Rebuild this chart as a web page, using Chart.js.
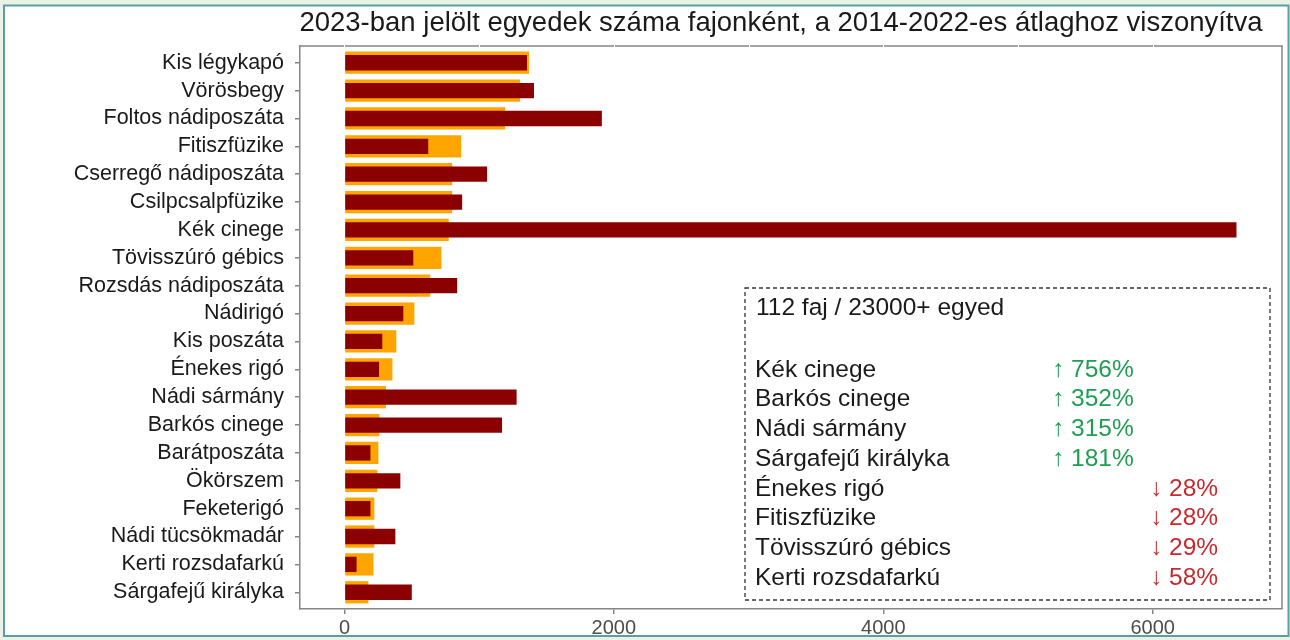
<!DOCTYPE html>
<html>
<head>
<meta charset="utf-8">
<script src="https://cdn.jsdelivr.net/npm/chart.js@4.4.1/dist/chart.umd.min.js"></script>
<style>
  html, body { margin: 0; padding: 0; background: #eaf2e6; }
  #wrap { width: 1290px; height: 640px; }
</style>
</head>
<body>
<div id="wrap"><canvas id="birdChart" width="1290" height="640"></canvas></div>
<script>
// Fajok (fentről lefelé)
const species = [
  'Kis légykapó', 'Vörösbegy', 'Foltos nádiposzáta', 'Fitiszfüzike',
  'Cserregő nádiposzáta', 'Csilpcsalpfüzike', 'Kék cinege', 'Tövisszúró gébics',
  'Rozsdás nádiposzáta', 'Nádirigó', 'Kis poszáta', 'Énekes rigó',
  'Nádi sármány', 'Barkós cinege', 'Barátposzáta', 'Ökörszem',
  'Feketerigó', 'Nádi tücsökmadár', 'Kerti rozsdafarkú', 'Sárgafejű királyka'
];

// 2014-2022 átlag
const avg2014_2022 = [
  1370, 1304, 1193, 867, 800, 800, 774, 720, 637, 519,
  385, 356, 308, 259, 252, 244, 222, 222, 215, 178
];

// 2023-ban jelölt egyedek
const count2023 = [
  1355, 1407, 1911, 622, 1059, 874, 6622, 511, 837, 437,
  281, 257, 1278, 1170, 193, 415, 193, 378, 90, 500
];

const xTicks = [0, 2000, 4000, 6000];

// Szövegdoboz
const boxHeader = '112 faj / 23000+ egyed';
const boxSpecies = [
  'Kék cinege', 'Barkós cinege', 'Nádi sármány', 'Sárgafejű királyka',
  'Énekes rigó', 'Fitiszfüzike', 'Tövisszúró gébics', 'Kerti rozsdafarkú'
];
const boxChanges = [
  '↑ 756%', '↑ 352%', '↑ 315%', '↑ 181%',
  '↓ 28%', '↓ 28%', '↓ 29%', '↓ 58%'
];

const FONT = '"Liberation Sans", Arial, sans-serif';
const titleText = '2023-ban jelölt egyedek száma fajonként, a 2014-2022-es átlaghoz viszonyítva';

const framePlugin = {
  id: 'frame',
  beforeDraw(chart) {
    const c = chart.ctx;
    c.save();
    c.fillStyle = '#eaf2e6';
    c.fillRect(0, 0, chart.width, chart.height);
    c.fillStyle = '#ffffff';
    c.fillRect(4, 5, 1285, 631);
    c.strokeStyle = '#5b9fa6';
    c.lineWidth = 2;
    c.strokeRect(4, 5.5, 1284.5, 630.5);
    c.restore();
  },
  afterDraw(chart) {
    const c = chart.ctx;
    const ca = chart.chartArea;
    const xs = chart.scales.x;
    c.save();
    // top and right panel border
    c.strokeStyle = '#858585';
    c.lineWidth = 1.5;
    c.beginPath();
    c.moveTo(ca.left, ca.top);
    c.lineTo(ca.right, ca.top);
    c.lineTo(ca.right, ca.bottom);
    c.stroke();
    // white grid lines crossing the top border
    c.strokeStyle = '#ffffff';
    c.lineWidth = 1;
    for (let v = 0; v <= 6000; v += 1000) {
      const px = Math.round(xs.getPixelForValue(v)) + 0.5;
      c.beginPath();
      c.moveTo(px, ca.top - 1);
      c.lineTo(px, ca.top + 1);
      c.stroke();
    }

    // title
    c.fillStyle = '#1a1a1a';
    c.font = '27.5px ' + FONT;
    c.textAlign = 'center';
    c.textBaseline = 'middle';
    c.fillText(titleText, (ca.left + ca.right) / 2 - 10, 23);

    // dashed text box
    const left = ca.left + 445, right = ca.left + 970;
    const top = ca.top + 242, bottom = ca.top + 554;
    c.strokeStyle = '#333333';
    c.lineWidth = 1.3;
    c.setLineDash([4, 3]);
    c.strokeRect(left, top, right - left, bottom - top);
    c.setLineDash([]);

    c.textAlign = 'left';
    c.font = '24.5px ' + FONT;
    c.fillStyle = '#1a1a1a';
    c.fillText(boxHeader, left + 11, top + 20);
    boxSpecies.forEach((name, i) => {
      const y = top + 82 + i * 29.7;
      c.fillStyle = '#1a1a1a';
      c.fillText(name, left + 10, y);
      const up = boxChanges[i].startsWith('↑');
      c.fillStyle = up ? '#1f9e52' : '#c62a2f';
      c.fillText(boxChanges[i], left + (up ? 307 : 405), y);
    });
    c.restore();
  }
};

const ctx = document.getElementById('birdChart').getContext('2d');

new Chart(ctx, {
  type: 'bar',
  data: {
    datasets: [
      {
        label: '2014-2022 átlag',
        data: avg2014_2022.map((v, i) => ({ x: v, y: i })),
        backgroundColor: '#FFA500',
        grouped: false,
        barPercentage: 0.8,
        categoryPercentage: 1,
        order: 2
      },
      {
        label: '2023',
        data: count2023.map((v, i) => ({ x: v, y: i })),
        backgroundColor: '#8B0000',
        grouped: false,
        barPercentage: 0.55,
        categoryPercentage: 1,
        order: 1
      }
    ]
  },
  options: {
    indexAxis: 'y',
    responsive: false,
    animation: false,
    devicePixelRatio: 1,
    layout: { padding: { top: 46, right: 8, bottom: 0, left: 0 } },
    scales: {
      x: {
        type: 'linear',
        min: -330,
        max: 6960,
        afterBuildTicks: scale => { scale.ticks = xTicks.map(v => ({ value: v })); },
        afterFit: scale => { scale.height = 31; },
        grid: { drawOnChartArea: false, tickLength: 5, color: '#858585', lineWidth: 1.5 },
        border: { color: '#858585', width: 1.5 },
        ticks: {
          color: '#4d4d4d',
          font: { family: FONT, size: 20 },
          padding: 2,
          callback: v => String(v)
        }
      },
      y: {
        type: 'linear',
        reverse: true,
        offset: false,
        min: -0.6,
        max: species.length - 0.4,
        afterBuildTicks: scale => { scale.ticks = species.map((s, i) => ({ value: i })); },
        afterFit: scale => { scale.width = 300; },
        grid: { drawOnChartArea: false, offset: false, tickLength: 5, color: '#858585', lineWidth: 1.5 },
        border: { color: '#858585', width: 1.5 },
        ticks: {
          color: '#1a1a1a',
          font: { family: FONT, size: 21.5 },
          padding: 11,
          autoSkip: false,
          callback: v => species[v]
        }
      }
    },
    plugins: {
      legend: { display: false },
      title: { display: false },
      tooltip: {
        callbacks: {
          title: items => species[items[0].parsed.y]
        }
      }
    }
  },
  plugins: [framePlugin]
});
</script>
</body>
</html>
